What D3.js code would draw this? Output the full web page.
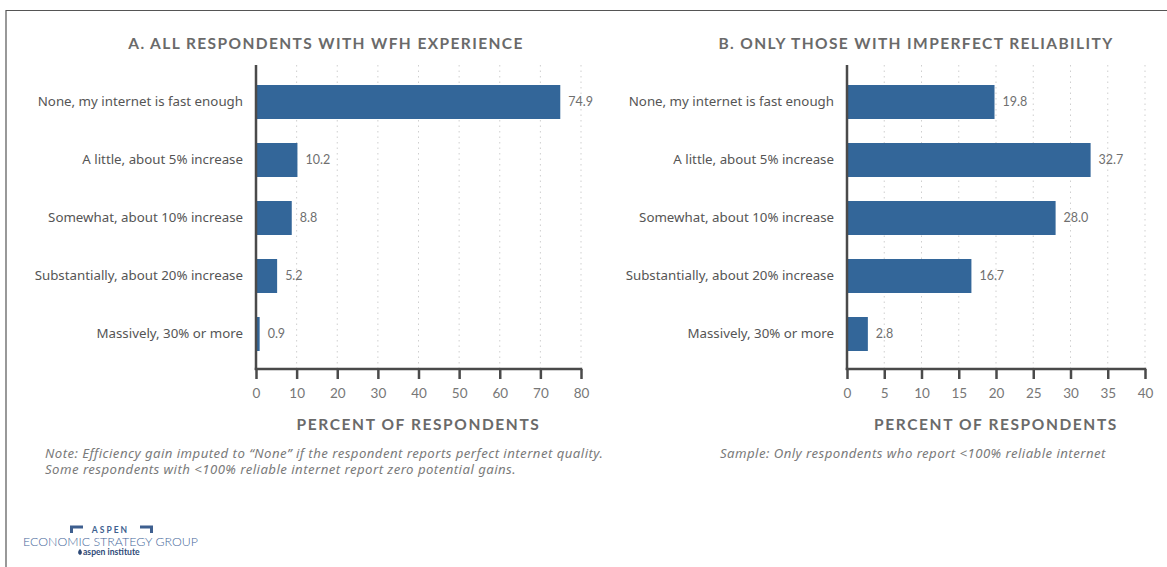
<!DOCTYPE html>
<html>
<head>
<meta charset="utf-8">
<script src="https://cdn.jsdelivr.net/npm/d3@7"></script>
<style>
  html, body { margin: 0; padding: 0; background: #fff; }
  svg { display: block; }
</style>
</head>
<body>
<svg id="chart" width="1167" height="567" font-family="Lato, sans-serif"></svg>
<script>
// ---- data ----
const categories = [
  "None, my internet is fast enough",
  "A little, about 5% increase",
  "Somewhat, about 10% increase",
  "Substantially, about 20% increase",
  "Massively, 30% or more"
];
const valuesA = [74.9, 10.2, 8.8, 5.2, 0.9];
const valuesB = [19.8, 32.7, 28.0, 16.7, 2.8];
const ticksA = [0, 10, 20, 30, 40, 50, 60, 70, 80];
const ticksB = [0, 5, 10, 15, 20, 25, 30, 35, 40];
const titleA = "A. ALL RESPONDENTS WITH WFH EXPERIENCE";
const titleB = "B. ONLY THOSE WITH IMPERFECT RELIABILITY";
const axisTitle = "PERCENT OF RESPONDENTS";
const notesA = [
  "Note: Efficiency gain imputed to \u201CNone\u201D if the respondent reports perfect internet quality.",
  "Some respondents with <100% reliable internet report zero potential gains."
];
const notesB = ["Sample: Only respondents who report <100% reliable internet"];

const svg = d3.select("#chart");
const barColor = "#336699";
const axisColor = "#4a4a4a";
const bodyFont = "'Noto Sans', Lato, sans-serif";

// frame
svg.append("path").attr("d", "M6,567 L6,10.5 L1167,10.5")
  .attr("fill", "none").attr("stroke", "#555").attr("stroke-width", 1.2);

function panel(opts) {
  const { x0, x1, vals, ticks, title, notes, noteX, titleX } = opts;
  const yTop = 65, yAxis = 369;
  const x = d3.scaleLinear().domain([0, ticks[ticks.length - 1]]).range([x0, x1]);
  const y = d3.scaleBand().domain(categories).range([73, 363])
    .paddingInner(0.414).paddingOuter(0.207);
  const g = svg.append("g");

  // gridlines
  g.selectAll("line.grid").data(ticks.slice(1)).join("line")
    .attr("class", "grid")
    .attr("x1", d => x(d)).attr("x2", d => x(d))
    .attr("y1", yTop).attr("y2", yAxis)
    .attr("stroke", "#cfcfcf").attr("stroke-width", 1)
    .attr("stroke-dasharray", "1.5,4");

  // bars
  g.selectAll("rect.bar").data(vals).join("rect")
    .attr("class", "bar")
    .attr("x", x(0)).attr("y", (d, i) => y(categories[i]))
    .attr("width", d => x(d) - x(0)).attr("height", y.bandwidth())
    .attr("fill", barColor);

  // value labels
  g.selectAll("text.val").data(vals).join("text")
    .attr("class", "val")
    .attr("x", d => x(d) + 8).attr("y", (d, i) => y(categories[i]) + y.bandwidth() / 2)
    .attr("dy", "0.35em")
    .attr("font-size", 12.5).attr("fill", "#6f6f6f")
    .text(d => d.toFixed(1));

  // category labels
  g.selectAll("text.cat").data(categories).join("text")
    .attr("class", "cat")
    .attr("x", x0 - 13).attr("y", d => y(d) + y.bandwidth() / 2 - 1)
    .attr("dy", "0.35em").attr("text-anchor", "end")
    .attr("font-family", bodyFont)
    .attr("font-size", 13.3).attr("fill", "#555")
    .text(d => d);

  // y axis line
  g.append("line").attr("x1", x0).attr("x2", x0).attr("y1", yTop).attr("y2", yAxis + 1)
    .attr("stroke", axisColor).attr("stroke-width", 2.5);

  // x axis
  const xAxis = d3.axisBottom(x).tickValues(ticks).tickSize(10).tickPadding(9).tickFormat(d3.format("d"));
  const ax = g.append("g").attr("transform", `translate(0,${yAxis})`).call(xAxis);
  ax.attr("font-family", "Lato, sans-serif");
  ax.select(".domain").attr("stroke", axisColor).attr("stroke-width", 2.5)
    .attr("d", `M${x0 - 1.25},0H${x1 + 1.25}`);
  ax.selectAll(".tick line").attr("stroke", axisColor).attr("stroke-width", 2.5);
  ax.selectAll(".tick text").attr("fill", "#777").attr("font-size", 13.5);

  // axis title
  g.append("text").attr("x", (x0 + x1) / 2).attr("y", 430)
    .attr("text-anchor", "middle").attr("font-size", 15.5).attr("font-weight", 700)
    .attr("letter-spacing", 1.6).attr("fill", "#6a6a6a").text(axisTitle);

  // panel title
  g.append("text").attr("x", titleX).attr("y", 49)
    .attr("text-anchor", "middle").attr("font-size", 15.5).attr("font-weight", 700)
    .attr("letter-spacing", 1.4).attr("fill", "#6a6a6a").text(title);

  // notes
  g.selectAll("text.note").data(notes).join("text")
    .attr("class", "note")
    .attr("x", noteX).attr("y", (d, i) => 458 + i * 16)
    .attr("font-family", bodyFont)
    .attr("font-size", 13.2).attr("letter-spacing", 0.45)
    .attr("font-style", "italic").attr("fill", "#7a7a7a")
    .text(d => d);
}

panel({ x0: 256, x1: 581, vals: valuesA, ticks: ticksA, title: titleA, notes: notesA, noteX: 45, titleX: 326 });
panel({ x0: 847, x1: 1145, vals: valuesB, ticks: ticksB, title: titleB, notes: notesB, noteX: 720, titleX: 916 });

// logo
const logo = svg.append("g").attr("fill", "#3e5f8f");
logo.append("path").attr("d", "M70,525.5 H83 V528.5 H73 V533 H70 Z");
logo.append("path").attr("d", "M153,525.5 H140 V528.5 H150 V533 H153 Z");
logo.append("text").attr("x", 110.5).attr("y", 532.5).attr("text-anchor", "middle")
  .attr("font-size", 8.5).attr("font-weight", 700).attr("letter-spacing", 2).text("ASPEN");
logo.append("text").attr("x", 110.5).attr("y", 545.5).attr("text-anchor", "middle")
  .attr("font-size", 12.4).attr("font-weight", 300).attr("fill", "#46679a").text("ECONOMIC STRATEGY GROUP");
logo.append("path").attr("d", "M80,549 C77.5,551 77.5,554 80,555 C82.5,554 82.5,551 80,549 Z").attr("fill", "#2e4a78");
logo.append("text").attr("x", 83).attr("y", 555).attr("font-size", 8.6).attr("font-weight", 700)
  .attr("fill", "#2e4a78").text("aspen institute");
</script>
</body>
</html>
